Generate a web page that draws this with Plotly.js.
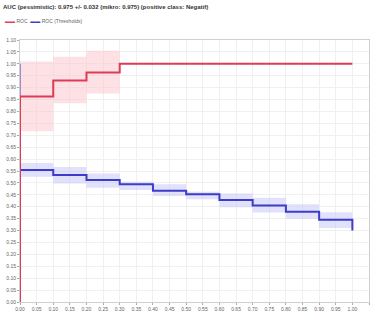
<!DOCTYPE html>
<html>
<head>
<meta charset="utf-8">
<script src="https://cdn.plot.ly/plotly-3.0.1.min.js"></script>
<style>html,body{margin:0;padding:0;background:#fff;}#chart{width:372px;height:320px;}</style>
</head>
<body>
<div id="chart"></div>
<script>
// False positive rate steps
var stepX = [0, 0.1, 0.2, 0.3, 0.4, 0.5, 0.6, 0.7, 0.8, 0.9, 1.0];

// ROC (pessimistic) curve
var rocX = [0, 0, 0.1, 0.2, 0.3, 1.0];
var rocY = [0, 0.863, 0.930, 0.964, 1.0, 1.0];
var rocLow  = [0.717, 0.834, 0.875, 1.0, 1.0, 1.0, 1.0, 1.0, 1.0, 1.0, 1.0];
var rocHigh = [1.010, 1.030, 1.055, 1.0, 1.0, 1.0, 1.0, 1.0, 1.0, 1.0, 1.0];

// ROC (Thresholds) curve
var thrX = [0, 0, 0.1, 0.2, 0.3, 0.4, 0.5, 0.6, 0.7, 0.8, 0.9, 1.0];
var thrY = [1.0, 0.554, 0.533, 0.512, 0.494, 0.467, 0.452, 0.428, 0.405, 0.379, 0.345, 0.30];
var thrLow  = [0.526, 0.497, 0.480, 0.470, 0.445, 0.431, 0.398, 0.376, 0.349, 0.311, 0.311];
var thrHigh = [0.584, 0.567, 0.540, 0.505, 0.494, 0.463, 0.456, 0.438, 0.410, 0.377, 0.377];

var titleText = "AUC (pessimistic): 0.975 +/- 0.032 (mikro: 0.975) (positive class: Negatif)";
var seriesNames = ["ROC", "ROC (Thresholds)"];
var red = "#dc3c55", blue = "#3c3cc8";
var redFill = "rgba(252,200,208,0.55)", blueFill = "rgba(200,200,248,0.55)";

var traces = [
  {x: stepX, y: thrLow, mode: "lines", line: {width: 0, shape: "hv"}, showlegend: false, hoverinfo: "skip"},
  {x: stepX, y: thrHigh, mode: "lines", line: {width: 0, shape: "hv"}, fill: "tonexty", fillcolor: blueFill, showlegend: false, hoverinfo: "skip"},
  {x: thrX, y: thrY, mode: "lines", name: seriesNames[1], line: {color: blue, width: 2, shape: "hv"}, showlegend: false},
  {x: stepX, y: rocLow, mode: "lines", line: {width: 0, shape: "hv"}, showlegend: false, hoverinfo: "skip"},
  {x: stepX, y: rocHigh, mode: "lines", line: {width: 0, shape: "hv"}, fill: "tonexty", fillcolor: redFill, showlegend: false, hoverinfo: "skip"},
  {x: rocX, y: rocY, mode: "lines", name: seriesNames[0], line: {color: red, width: 2, shape: "hv"}, showlegend: false}
];

var ticks = [];
for (var i = 0; i <= 22; i++) ticks.push(+(i * 0.05).toFixed(2));

var axisCommon = {
  tickmode: "array", tickvals: ticks, ticktext: ticks.map(function(v){return v.toFixed(2);}),
  showgrid: true, gridcolor: "#f0f0f0", gridwidth: 1,
  showline: true, mirror: true, linecolor: "#cfcfcf", linewidth: 1,
  ticks: "outside", ticklen: 2, tickcolor: "#aaaaaa",
  tickfont: {size: 5, color: "#666666", family: "Liberation Sans, Arial, sans-serif"},
  zeroline: false, fixedrange: true
};

var layout = {
  width: 372, height: 320,
  margin: {l: 20, r: 3, t: 40, b: 18},
  paper_bgcolor: "#ffffff", plot_bgcolor: "#ffffff",
  showlegend: false,
  title: {text: "<b>" + titleText + "</b>", x: 0.008, xanchor: "left", xref: "container", y: 0.978, yanchor: "middle", yref: "container",
          font: {size: 6, color: "#333333", family: "Liberation Sans, Arial, sans-serif"}},
  xaxis: Object.assign({}, axisCommon, {range: [0, 1.05]}),
  yaxis: Object.assign({}, axisCommon, {range: [0, 1.1]}),
  annotations: [{
    xref: "paper", yref: "paper", x: -0.049, y: 1.074, xanchor: "left", yanchor: "middle", showarrow: false,
    text: "<span style='color:" + red + "'>▬▬</span> " + seriesNames[0] + "  <span style='color:" + blue + "'>▬▬</span> " + seriesNames[1],
    font: {size: 5, color: "#666666", family: "Liberation Sans, Arial, sans-serif"}
  }]
};

Plotly.newPlot("chart", traces, layout, {displayModeBar: false, staticPlot: true});
</script>
</body>
</html>
